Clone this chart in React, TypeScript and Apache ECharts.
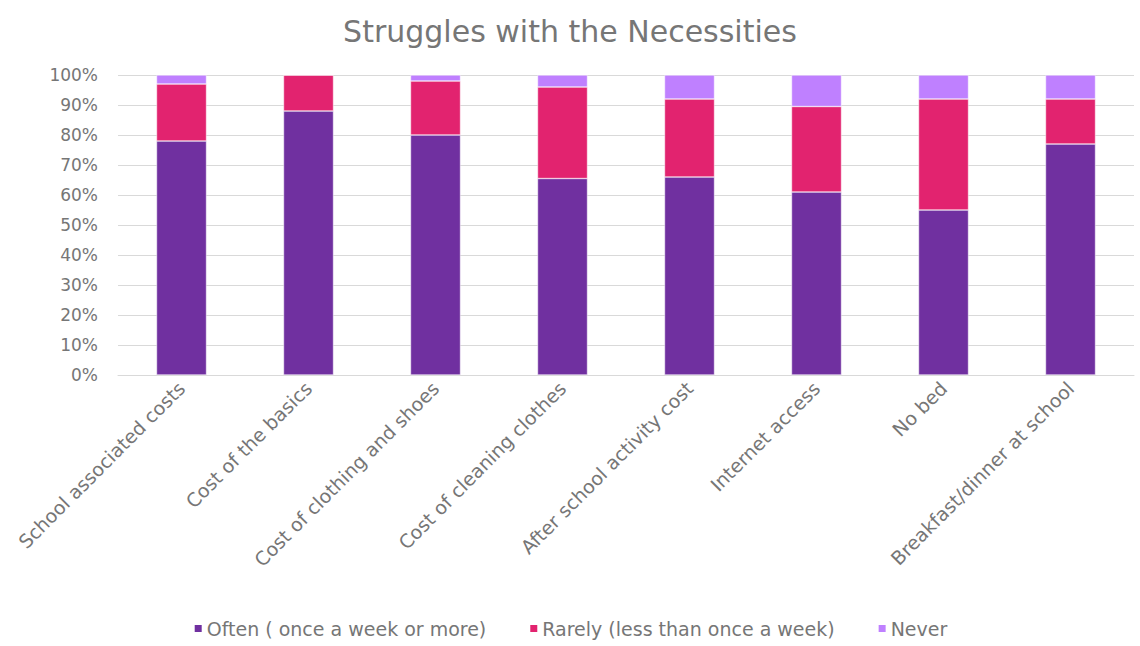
import React, { useEffect, useRef } from "react";
import * as echarts from "echarts";

const categories = [
  "School associated costs",
  "Cost of the basics",
  "Cost of clothing and shoes",
  "Cost of cleaning clothes",
  "After school activity cost",
  "Internet access",
  "No bed",
  "Breakfast/dinner at school",
];
const seriesNames = [
  "Often ( once a week or more)",
  "Rarely (less than once a week)",
  "Never",
];
const often = [78, 88, 80, 65.5, 66, 61, 55, 77];
const rarely = [19, 12, 18, 30.5, 26, 28.5, 37, 15];
const never = [3, 0, 2, 4, 8, 10.5, 8, 8];
const yTicks = [0, 10, 20, 30, 40, 50, 60, 70, 80, 90, 100];
const colors = ["#7030A0", "#E2236F", "#BF80FF"];

const FONT = "'DejaVu Sans', 'Open Sans', sans-serif";
const TEXT = "#767676";

export default function App() {
  const ref = useRef<HTMLDivElement>(null);
  useEffect(() => {
    if (!ref.current) return;
    const chart = echarts.init(ref.current, undefined, { renderer: "svg" });
    const data = [often, rarely, never];
    chart.setOption({
      animation: false,
      backgroundColor: "#ffffff",
      textStyle: { fontFamily: FONT },
      title: {
        text: "Struggles with the Necessities",
        left: "center",
        top: 11,
        textStyle: { fontFamily: FONT, fontSize: 30, fontWeight: "normal", color: TEXT },
      },
      legend: {
        bottom: 3,
        left: "center",
        itemWidth: 9,
        itemHeight: 9,
        itemGap: 42,
        icon: "rect",
        data: seriesNames,
        textStyle: { fontFamily: FONT, fontSize: 19, color: TEXT, padding: [0, 0, 0, -1] },
      },
      grid: { left: 118, right: 6, top: 75, bottom: 271 },
      xAxis: {
        type: "category",
        data: categories,
        axisTick: { show: false },
        axisLine: { lineStyle: { color: "#d9d9d9" } },
        axisLabel: {
          rotate: 45,
          interval: 0,
          margin: 10,
          fontFamily: FONT,
          fontSize: 19,
          color: TEXT,
        },
      },
      yAxis: {
        type: "value",
        min: yTicks[0],
        max: yTicks[yTicks.length - 1],
        interval: 10,
        axisLine: { show: false },
        axisTick: { show: false },
        splitLine: { lineStyle: { color: "#d9d9d9", width: 1 } },
        axisLabel: {
          formatter: "{value}%",
          fontFamily: FONT,
          fontSize: 17,
          color: TEXT,
          margin: 20,
        },
      },
      series: seriesNames.map((name, i) => ({
        name,
        type: "bar",
        stack: "total",
        barWidth: 50,
        data: data[i],
        itemStyle: { color: colors[i], borderColor: "#ffffff", borderWidth: 0.5 },
      })),
    });
    return () => chart.dispose();
  }, []);
  return (
    <div
      ref={ref}
      style={{ position: "fixed", left: 0, top: 0, width: 1140, height: 646 }}
    />
  );
}
